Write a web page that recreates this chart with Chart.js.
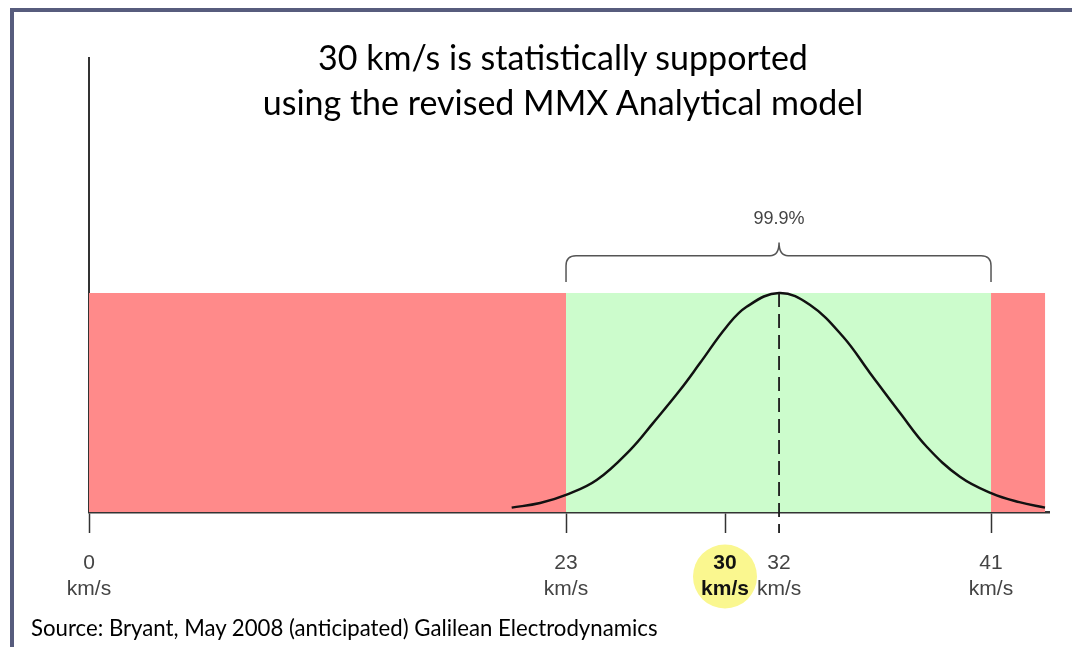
<!DOCTYPE html>
<html>
<head>
<meta charset="utf-8">
<script src="https://cdn.jsdelivr.net/npm/chart.js@4.4.1/dist/chart.umd.min.js"></script>
<style>
  html, body { margin: 0; padding: 0; background: #fff; }
  #wrap { position: relative; width: 1072px; height: 647px; overflow: hidden; background: #fff; }
  #frame { position: absolute; left: 10px; top: 8px; width: 1062px; height: 639px;
           border-left: 4px solid #575c7d; border-top: 4px solid #575c7d; box-sizing: border-box; }
  #title { position: absolute; left: 0; width: 1126px; top: 34px; text-align: center;
           font-family: Lato, "Open Sans", sans-serif; font-size: 34px; line-height: 45px; color: #000; }
  #source { position: absolute; left: 31px; top: 614px; white-space: nowrap;
            font-family: Lato, "Open Sans", sans-serif; font-size: 22.2px; line-height: 28px; color: #000; }
  #chart { position: absolute; left: 0; top: 0; }
</style>
</head>
<body>
<div id="wrap">
  <div id="frame"></div>
  <canvas id="chart" width="1072" height="647"></canvas>
  <div id="title">30 km/s is statistically supported<br>using the revised MMX Analytical model</div>
  <div id="source">Source: Bryant, May 2008 (anticipated) Galilean Electrodynamics</div>
</div>
<script>
// ---- data ----
const tickValues = [0, 23, 30, 32, 41];
const tickUnit = 'km/s';
const highlightValue = 30;
const meanValue = 32;
const intervalLow = 23;
const intervalHigh = 41;
const intervalLabel = '99.9%';
const axisMax = 43.46;

const zoneStarts = [0, 23, 41];
const zoneEnds = [23, 41, 43.3];
const zoneHeights = [1, 1, 1];
const zoneColors = ['#ff8a8a', '#ccfccc', '#ff8a8a'];

const curveX = [20.38, 21.75, 23.0, 24.35, 25.82, 26.83, 28.02, 28.90, 30.06, 30.80, 32.0,
                33.32, 34.72, 35.86, 37.14, 38.27, 39.68, 41.03, 42.2, 43.29];
const curveY = [0.02, 0.041, 0.078, 0.146, 0.283, 0.406, 0.557, 0.68, 0.846, 0.937, 1.0,
                0.945, 0.80, 0.635, 0.452, 0.298, 0.161, 0.085, 0.045, 0.02];

// ---- piecewise linear axis (the original axis is not drawn to scale) ----
class PiecewiseLinearScale extends Chart.LinearScale {
  _seg(v) {
    const bv = this.options.breakValues;
    let i = 0;
    while (i < bv.length - 2 && v > bv[i + 1]) i++;
    return i;
  }
  getPixelForValue(value) {
    const v = +value;
    const bv = this.options.breakValues, bf = this.options.breakFractions;
    const i = this._seg(v);
    const dec = bf[i] + ((v - bv[i]) / (bv[i + 1] - bv[i])) * (bf[i + 1] - bf[i]);
    return this.getPixelForDecimal(dec);
  }
  getValueForPixel(pixel) {
    const dec = this.getDecimalForPixel(pixel);
    const bv = this.options.breakValues, bf = this.options.breakFractions;
    let i = 0;
    while (i < bf.length - 2 && dec > bf[i + 1]) i++;
    return bv[i] + ((dec - bf[i]) / (bf[i + 1] - bf[i])) * (bv[i + 1] - bv[i]);
  }
}
PiecewiseLinearScale.id = 'piecewiseLinear';
PiecewiseLinearScale.defaults = {};
Chart.register(PiecewiseLinearScale);

const zoneDatasets = zoneStarts.map((s, i) => ({
  type: 'line',
  data: [{ x: s, y: zoneHeights[i] }, { x: zoneEnds[i], y: zoneHeights[i] }],
  borderWidth: 0,
  borderColor: 'rgba(0,0,0,0)',
  backgroundColor: zoneColors[i],
  fill: 'origin',
  pointRadius: 0,
  tension: 0,
  order: 2
}));

const curveDataset = {
  type: 'line',
  data: curveX.map((x, i) => ({ x, y: curveY[i] })),
  borderColor: '#111',
  borderWidth: 2.5,
  fill: false,
  pointRadius: 0,
  tension: 0.4,
  order: 0
};

const highlightPlugin = {
  id: 'highlight',
  beforeDraw(chart) {
    const xs = chart.scales.x, ctx = chart.ctx;
    const cx = xs.getPixelForValue(highlightValue);
    ctx.save();
    ctx.fillStyle = '#faf78f';
    ctx.beginPath();
    ctx.arc(cx, chart.chartArea.bottom + 64.5, 32, 0, Math.PI * 2);
    ctx.fill();
    ctx.restore();
  }
};

const annotPlugin = {
  id: 'annot',
  afterDatasetsDraw(chart) {
    const xs = chart.scales.x, ys = chart.scales.y, ctx = chart.ctx;
    // dashed mean line
    const xm = xs.getPixelForValue(meanValue);
    ctx.save();
    ctx.strokeStyle = '#1a1a1a';
    ctx.lineWidth = 1.8;
    ctx.setLineDash([14, 7]);
    ctx.beginPath();
    ctx.moveTo(xm, ys.getPixelForValue(1));
    ctx.lineTo(xm, ys.getPixelForValue(0) + 21);
    ctx.stroke();
    ctx.restore();

    // bracket
    const x1 = xs.getPixelForValue(intervalLow), x2 = xs.getPixelForValue(intervalHigh);
    const xc = xm;
    const yb = ys.getPixelForValue(1.05), yh = ys.getPixelForValue(1.17), yt = ys.getPixelForValue(1.23);
    const r = 10;
    ctx.save();
    ctx.strokeStyle = '#555';
    ctx.lineWidth = 1.5;
    ctx.beginPath();
    ctx.moveTo(x1, yb);
    ctx.lineTo(x1, yh + r);
    ctx.quadraticCurveTo(x1, yh, x1 + r, yh);
    ctx.lineTo(xc - 9, yh);
    ctx.quadraticCurveTo(xc, yh, xc, yt);
    ctx.quadraticCurveTo(xc, yh, xc + 9, yh);
    ctx.lineTo(x2 - r, yh);
    ctx.quadraticCurveTo(x2, yh, x2, yh + r);
    ctx.lineTo(x2, yb);
    ctx.stroke();
    ctx.fillStyle = '#444';
    ctx.font = '18px "Liberation Sans", Arial, sans-serif';
    ctx.textAlign = 'center';
    ctx.textBaseline = 'middle';
    ctx.fillText(intervalLabel, xc, ys.getPixelForValue(1.34));
    ctx.restore();
  }
};

new Chart(document.getElementById('chart'), {
  data: { datasets: [curveDataset, ...zoneDatasets] },
  options: {
    responsive: false,
    animation: false,
    events: [],
    layout: { padding: { left: 89, right: 23, top: 58, bottom: 0 } },
    plugins: { legend: { display: false }, tooltip: { enabled: false }, title: { display: false } },
    scales: {
      x: {
        type: 'piecewiseLinear',
        breakValues: [0, 23, 30, 32, 41, axisMax],
        breakFractions: [0, 0.4969, 0.6625, 0.7188, 0.9396, 1],
        min: 0,
        max: axisMax,
        afterFit(scale) { scale.height = 135; },
        afterBuildTicks(axis) { axis.ticks = tickValues.map(v => ({ value: v })); },
        border: { display: true, color: '#333', width: 2.5 },
        grid: {
          drawOnChartArea: false,
          drawTicks: true,
          tickLength: 21,
          tickWidth: 1.5,
          tickColor: ctx => (ctx.tick && ctx.tick.value === meanValue) ? 'rgba(0,0,0,0)' : '#333'
        },
        ticks: {
          autoSkip: false,
          maxRotation: 0,
          padding: 17,
          color: ctx => (ctx.tick && ctx.tick.value === highlightValue) ? '#111' : '#444',
          font: ctx => ({
            family: '"Liberation Sans", Arial, sans-serif',
            size: 21,
            lineHeight: 1.24,
            weight: (ctx.tick && ctx.tick.value === highlightValue) ? 'bold' : 'normal'
          }),
          callback: v => [String(v), tickUnit]
        }
      },
      y: {
        type: 'linear',
        min: 0,
        max: 2.073,
        afterFit(scale) { scale.width = 0; },
        ticks: { display: false },
        grid: { display: false },
        border: { display: true, color: '#333', width: 2 }
      }
    }
  },
  plugins: [highlightPlugin, annotPlugin]
});
</script>
</body>
</html>
